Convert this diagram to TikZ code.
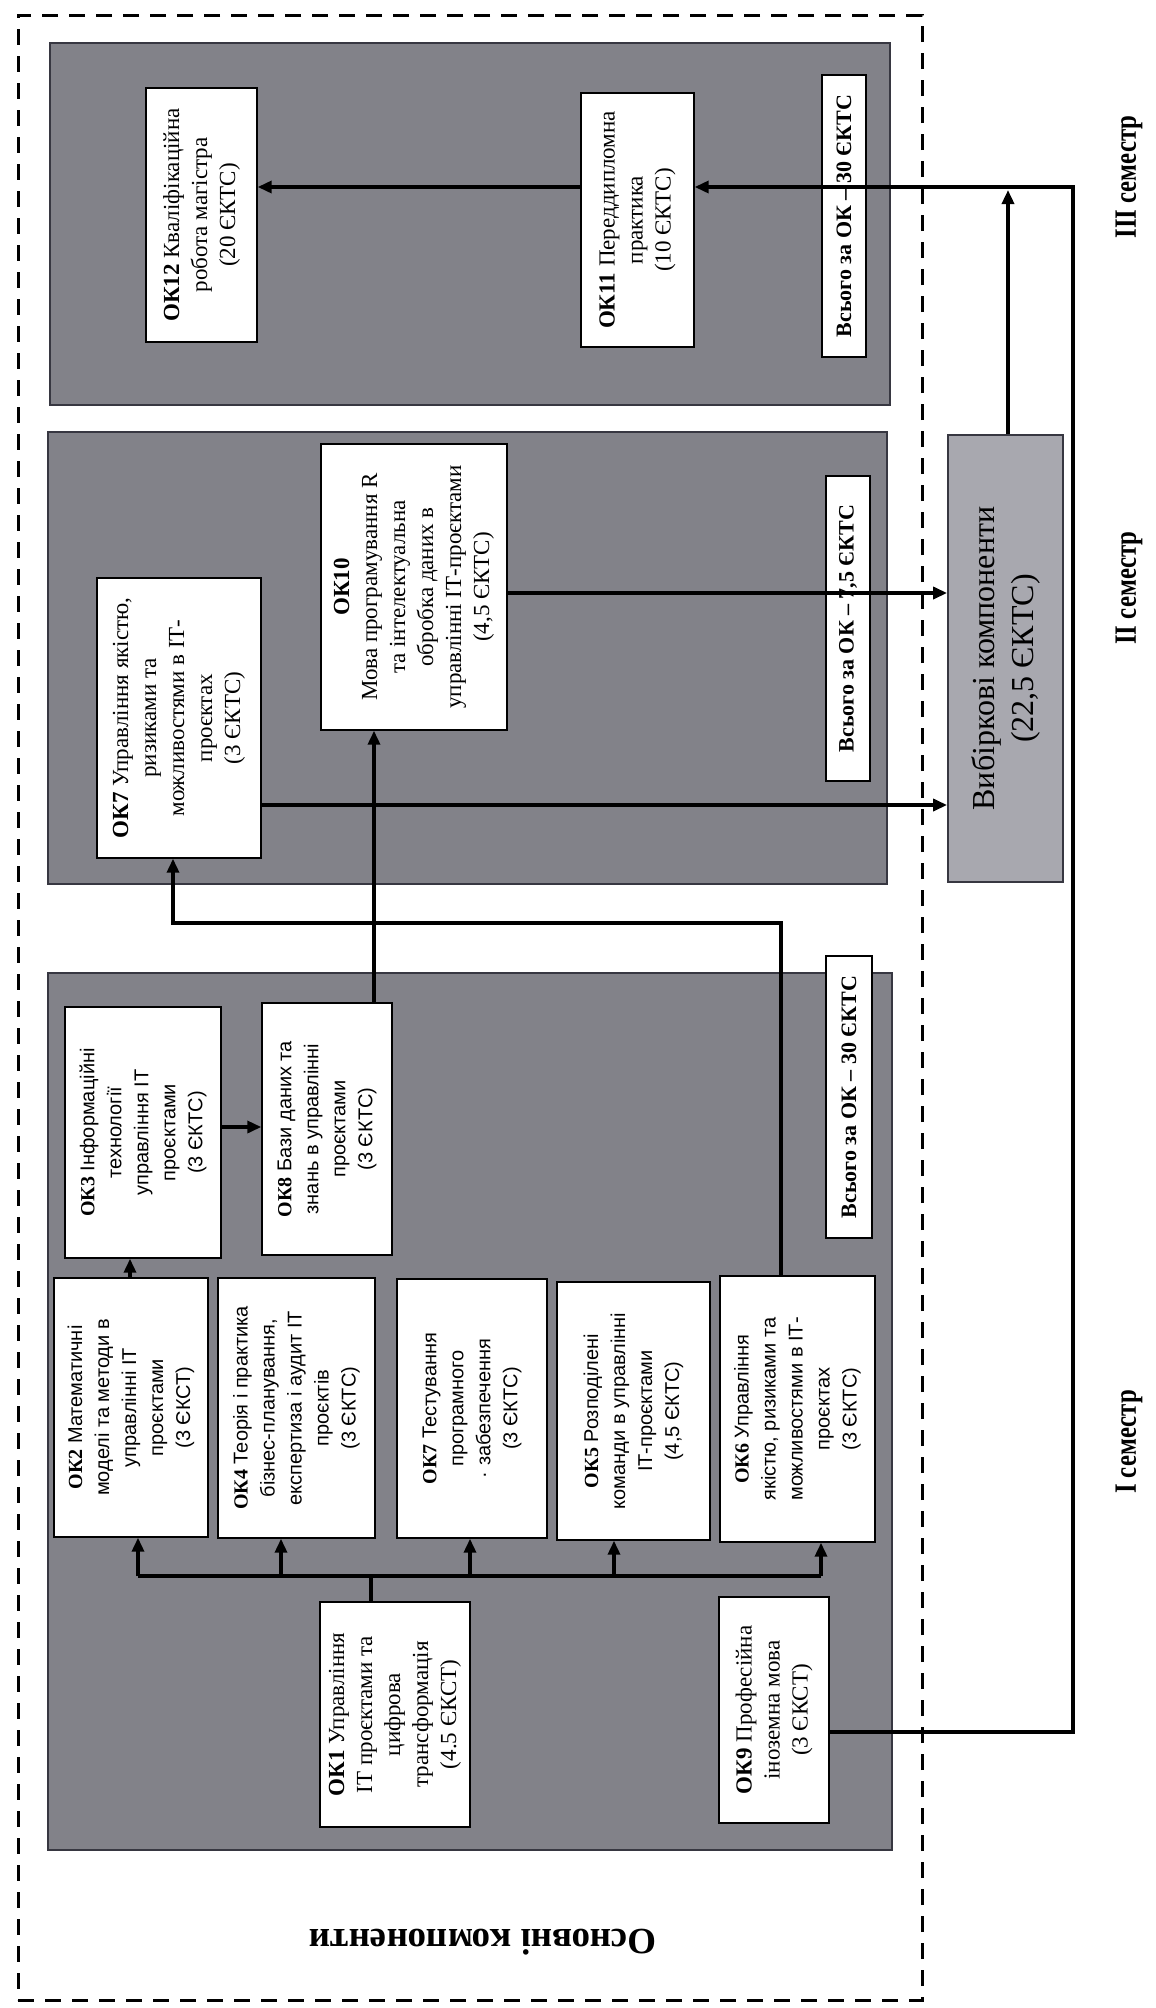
\documentclass[tikz,border=0pt]{standalone}
\usepackage{fontspec}
\setmainfont{Liberation Serif}
\newfontfamily\sansf{Liberation Sans}
\newfontfamily\condf[FakeStretch=0.8]{Liberation Serif}
\usetikzlibrary{fit,arrows.meta}
\definecolor{panelgray}{RGB}{130,130,137}
\definecolor{panelborder}{RGB}{55,55,65}
\definecolor{vybgray}{RGB}{168,168,175}
\tikzset{
  panel/.style={draw=panelborder, line width=1pt, fill=panelgray, inner sep=0pt},
  okbox/.style={draw=black, line width=0.7pt, fill=white, inner sep=0pt},
  vybbox/.style={draw=panelborder, line width=0.9pt, fill=vybgray, inner sep=0pt},
  outerbox/.style={draw=black, line width=1.5pt, dash pattern=on 8pt off 5.5pt, inner sep=0pt},
  txt/.style={rotate=90, align=center, inner sep=0pt},
  sert/.style={txt, font=\fontsize{11.5}{14}\selectfont},
  sanst/.style={txt, font=\sansf\fontsize{10}{13.5}\selectfont},
  tott/.style={txt, font=\bfseries\fontsize{11}{13}\selectfont},
  semt/.style={txt, font=\condf\bfseries\fontsize{15.5}{17}\selectfont},
  conn/.style={line width=1.7pt, draw=black},
  arr/.style={conn, -{Triangle[length=7pt,width=6pt]}},
}
\begin{document}
\begin{tikzpicture}[x=0.5pt,y=-0.5pt]
\useasboundingbox (0,0) rectangle (1156,2008);
% outer dashed frame
\node[outerbox, fit={(18,15)(922,2000)}] (outer) {};
% semester panels
\node[panel, fit={(50,43)(890,405)}] (p3) {};
\node[panel, fit={(48,432)(887,884)}] (p2) {};
\node[panel, fit={(48,973)(892,1850)}] (p1) {};

% coordinates for connectors
\coordinate (busL) at (138,1576);
\coordinate (bus4) at (281,1576);
\coordinate (bus1) at (371,1576);
\coordinate (bus7) at (470,1576);
\coordinate (bus5) at (614,1576);
\coordinate (busR) at (821,1576);
\coordinate (c23) at (130,0);
\coordinate (c38) at (0,1127);
\coordinate (c810) at (374,0);
\coordinate (k1) at (781,923);
\coordinate (k2) at (173,923);
\coordinate (c7v) at (0,805);
\coordinate (c10v) at (0,593);
\coordinate (jn) at (1008,190);
\coordinate (r1) at (1073,1732);
\coordinate (r2) at (1073,187);

% boxes (semester I)
\node[okbox, fit={(320,1602)(470,1827)}] (ok1) {};
\node[okbox, fit={(719,1597)(829,1823)}] (ok9) {};
\node[okbox, fit={(54,1278)(208,1537)}] (ok2) {};
\node[okbox, fit={(218,1278)(375,1538)}] (ok4) {};
\node[okbox, fit={(397,1279)(547,1538)}] (ok7a) {};
\node[okbox, fit={(557,1282)(710,1540)}] (ok5) {};
\node[okbox, fit={(720,1276)(875,1542)}] (ok6) {};
\node[okbox, fit={(65,1007)(221,1258)}] (ok3) {};
\node[okbox, fit={(262,1003)(392,1255)}] (ok8) {};
\node[okbox, fit={(826,956)(872,1238)}] (tot1) {};
% semester II
\node[okbox, fit={(97,578)(261,858)}] (ok7b) {};
\node[okbox, fit={(321,444)(507,730)}] (ok10) {};
\node[okbox, fit={(826,476)(870,781)}] (tot2) {};
% semester III
\node[okbox, fit={(146,88)(257,342)}] (ok12) {};
\node[okbox, fit={(581,93)(694,347)}] (ok11) {};
\node[okbox, fit={(822,75)(866,357)}] (tot3) {};
% elective
\node[vybbox, fit={(948,435)(1063,882)}] (vyb) {};

% connectors
\draw[conn] (ok1.north -| bus1) -- (bus1);
\draw[conn] (busL) -- (busR);
\draw[arr] (busL) -- (ok2.south -| busL);
\draw[arr] (bus4) -- (ok4.south -| bus4);
\draw[arr] (bus7) -- (ok7a.south -| bus7);
\draw[arr] (bus5) -- (ok5.south -| bus5);
\draw[arr] (busR) -- (ok6.south -| busR);
\draw[arr] (ok2.north -| c23) -- (ok3.south -| c23);
\draw[arr] (ok3.east |- c38) -- (ok8.west |- c38);
\draw[arr] (ok8.north -| c810) -- (ok10.south -| c810);
\draw[arr] (ok6.north -| k1) -- (k1) -- (k2) -- (ok7b.south -| k2);
\draw[arr] (ok7b.east |- c7v) -- (vyb.west |- c7v);
\draw[arr] (ok10.east |- c10v) -- (vyb.west |- c10v);
\draw[arr] (vyb.north -| jn) -- (jn);
\draw[arr] (ok9.east |- r1) -- (r1) -- (r2) -- (ok11.east |- r2);
\draw[arr] (ok11.west |- r2) -- (ok12.east |- r2);

% texts
\node[sert] (ok1t) at (ok1.center) {\textbf{ОК1} Управління\\ІТ проєктами та\\цифрова\\трансформація\\(4.5 ЄКСТ)};
\node[sert] (ok9t) at (ok9.center) {\textbf{ОК9} Професійна\\іноземна мова\\(3 ЄКСТ)};
\node[sanst] (ok2t) at (ok2.center) {{\rmfamily\bfseries ОК2} Математичні\\моделі та методи в\\управлінні ІТ\\проєктами\\(3 ЄКСТ)};
\node[sanst] (ok4t) at (ok4.center) {{\rmfamily\bfseries ОК4} Теорія і практика\\бізнес-планування,\\експертиза і аудит ІТ\\проєктів\\(3 ЄКТС)};
\node[sanst] (ok7at) at (ok7a.center) {{\rmfamily\bfseries ОК7} Тестування\\програмного\\· забезпечення\\(3 ЄКТС)};
\node[sanst] (ok5t) at (ok5.center) {{\rmfamily\bfseries ОК5} Розподілені\\команди в управлінні\\ІТ-проєктами\\(4,5 ЄКТС)};
\node[sanst] (ok6t) at (ok6.center) {{\rmfamily\bfseries ОК6} Управління\\якістю, ризиками та\\можливостями в ІТ-\\проєктах\\(3 ЄКТС)};
\node[sanst] (ok3t) at (ok3.center) {{\rmfamily\bfseries ОК3} Інформаційні\\технології\\управління ІТ\\проєктами\\(3 ЄКТС)};
\node[sanst] (ok8t) at (ok8.center) {{\rmfamily\bfseries ОК8} Бази даних та\\знань в управлінні\\проєктами\\(3 ЄКТС)};
\node[tott] (tot1t) at (tot1.center) {Всього за ОК – 30 ЄКТС};
\node[sert] (ok7bt) at (ok7b.center) {\textbf{ОК7} Управління якістю,\\ризиками та\\можливостями в ІТ-\\проєктах\\(3 ЄКТС)};
\node[sert] (ok10t) at (ok10.center) {\textbf{ОК10}\\Мова програмування R\\та інтелектуальна\\обробка даних в\\управлінні ІТ-проєктами\\(4,5 ЄКТС)};
\node[tott] (tot2t) at (tot2.center) {Всього за ОК – 7,5 ЄКТС};
\node[sert] (ok12t) at (ok12.center) {\textbf{ОК12} Кваліфікаційна\\робота магістра\\(20 ЄКТС)};
\node[sert] (ok11t) at (ok11.center) {\textbf{ОК11} Переддипломна\\практика\\(10 ЄКТС)};
\node[tott] (tot3t) at (tot3.center) {Всього за ОК – 30 ЄКТС};
\node[txt, font=\fontsize{16}{19.5}\selectfont] (vybt) at (vyb.center) {Вибіркові компоненти\\(22,5 ЄКТС)};

% semester labels
\node[semt] (sem3) at (1129,177) {III семестр};
\node[semt] (sem2) at (1129,588) {II семестр};
\node[semt] (sem1) at (1129,1442) {I семестр};
% main label (upside down)
\node[rotate=180, inner sep=0pt, font=\bfseries\fontsize{18.5}{20}\selectfont] (mainlbl) at (483,1942) {Основні компоненти};
\end{tikzpicture}
\end{document}
